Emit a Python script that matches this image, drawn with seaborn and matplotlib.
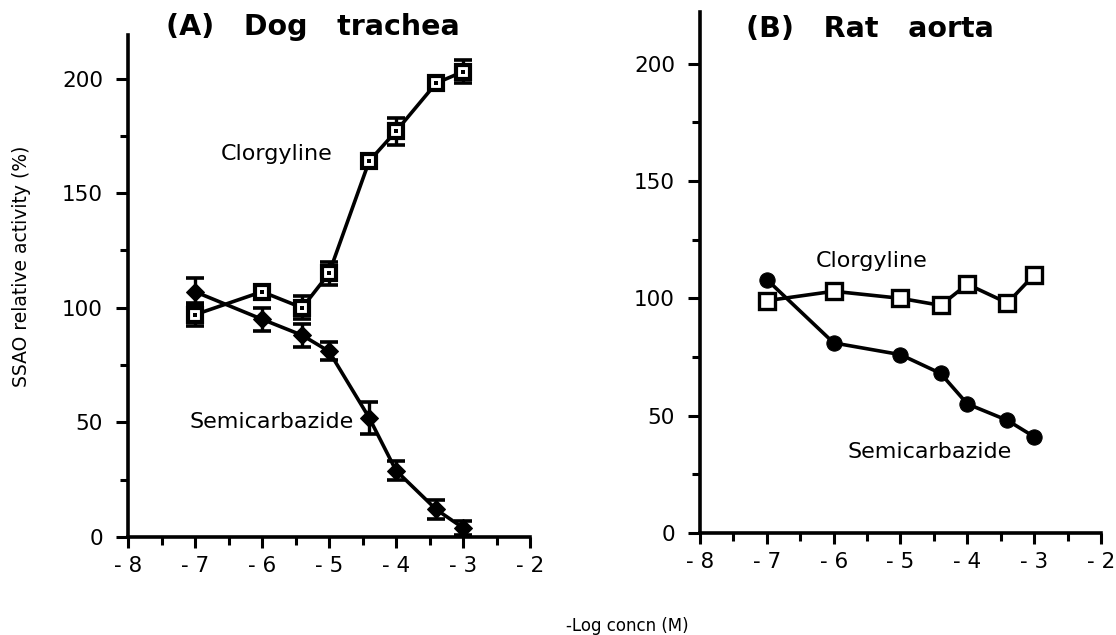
import matplotlib
matplotlib.use("Agg")
import matplotlib.pyplot as plt
import seaborn as sns
import pandas as pd
import numpy as np
from matplotlib.ticker import MultipleLocator, FixedLocator

# ---------------- data ----------------
# Panel A: Dog trachea
a_conc = [-7, -6, -5.4, -5, -4.4, -4, -3.4, -3]
a_clorgyline = [97, 107, 100, 115, 164, 177, 198, 203]
a_clorgyline_err = [5, 3, 5, 5, 3, 6, 2, 5]
a_semicarb = [107, 95, 88, 81, 52, 29, 12, 4]
a_semicarb_err = [6, 5, 5, 4, 7, 4, 4, 3]

# Panel B: Rat aorta
b_conc = [-7, -6, -5, -4.4, -4, -3.4, -3]
b_clorgyline = [99, 103, 100, 97, 106, 98, 110]
b_semicarb = [108, 81, 76, 68, 55, 48, 41]

x_ticks = [-8, -7, -6, -5, -4, -3, -2]
x_ticklabels = ["- 8", "- 7", "- 6", "- 5", "- 4", "- 3", "- 2"]
y_ticks = [0, 50, 100, 150, 200]

sns.set_theme(style="ticks")
plt.rcParams['font.family'] = ['DejaVu Sans']

fig = plt.figure(figsize=(11.16, 6.35), dpi=100)
axA = fig.add_axes([128/1116, 1-537/635, (530-128)/1116, (537-35)/635])
axB = fig.add_axes([700/1116, 1-533/635, (1101-700)/1116, (533-12)/635])

lw = 2.6

def style_axis(ax, ytop):
    ax.set_xlim(-8, -2)
    ax.set_ylim(0, ytop)
    for s in ["top", "right"]:
        ax.spines[s].set_visible(False)
    for s in ["left", "bottom"]:
        ax.spines[s].set_linewidth(2.6)
        ax.spines[s].set_color("black")
    ax.xaxis.set_major_locator(FixedLocator(x_ticks))
    ax.set_xticklabels(x_ticklabels)
    ax.xaxis.set_minor_locator(MultipleLocator(0.5))
    ax.yaxis.set_major_locator(FixedLocator(y_ticks))
    ax.yaxis.set_minor_locator(MultipleLocator(25))
    ax.tick_params(axis="x", which="major", length=8, width=2.2, labelsize=15.5,
                   color="black", labelcolor="black", pad=6)
    ax.tick_params(axis="y", which="major", length=9, width=2.2, labelsize=15.5,
                   color="black", labelcolor="black", pad=9)
    ax.tick_params(axis="both", which="minor", length=6, width=2.2, color="black")
    ax.set_xlabel("")
    ax.set_ylabel("")
    ax.set_facecolor("white")

# ---- Panel A ----
dfA = pd.DataFrame({"conc": a_conc, "clor": a_clorgyline, "semi": a_semicarb})
axA.errorbar(a_conc, a_clorgyline, yerr=a_clorgyline_err, fmt="none", ecolor="black",
             elinewidth=2.4, capsize=6.5, capthick=2.6, zorder=2)
axA.errorbar(a_conc, a_semicarb, yerr=a_semicarb_err, fmt="none", ecolor="black",
             elinewidth=2.4, capsize=6.5, capthick=2.6, zorder=2)
sns.lineplot(data=dfA, x="conc", y="clor", ax=axA, color="black", linewidth=lw,
             marker="s", markersize=10, markerfacecolor="white", markeredgecolor="black",
             markeredgewidth=3, zorder=3)
sns.scatterplot(data=dfA, x="conc", y="clor", ax=axA, color="black", marker="s",
                s=8, linewidth=0, zorder=4)
sns.lineplot(data=dfA, x="conc", y="semi", ax=axA, color="black", linewidth=lw,
             marker="D", markersize=9, markerfacecolor="black", markeredgecolor="black",
             zorder=3)
style_axis(axA, 219)
axA.text(-5.78, 167, "Clorgyline", fontsize=16, ha="center", va="center", color="black")
axA.text(-5.85, 50, "Semicarbazide", fontsize=16, ha="center", va="center", color="black")

# ---- Panel B ----
dfB = pd.DataFrame({"conc": b_conc, "clor": b_clorgyline, "semi": b_semicarb})
sns.lineplot(data=dfB, x="conc", y="semi", ax=axB, color="black", linewidth=lw,
             marker="o", markersize=11, markerfacecolor="black", markeredgecolor="black",
             zorder=3)
sns.lineplot(data=dfB, x="conc", y="clor", ax=axB, color="black", linewidth=lw,
             marker="s", markersize=11, markerfacecolor="white", markeredgecolor="black",
             markeredgewidth=2.4, zorder=4)
style_axis(axB, 222)
axB.text(-5.43, 116, "Clorgyline", fontsize=16, ha="center", va="center", color="black")
axB.text(-4.56, 34.5, "Semicarbazide", fontsize=16, ha="center", va="center", color="black")

fig.text(313/1116, 1-27/635, "(A)   Dog   trachea", fontsize=20.5, fontweight="bold",
         ha="center", va="center", color="black")
fig.text(870/1116, 1-29/635, "(B)   Rat   aorta", fontsize=20.5, fontweight="bold",
         ha="center", va="center", color="black")

fig.text(22/1116, 1-266/635, "SSAO relative activity (%)", rotation=90, fontsize=13.5,
         ha="center", va="center", color="black")
fig.text(627/1116, 1-626/635, "-Log concn (M)", fontsize=12, ha="center", va="center",
         color="black")

fig.savefig("out.png", dpi=100, facecolor="white")
